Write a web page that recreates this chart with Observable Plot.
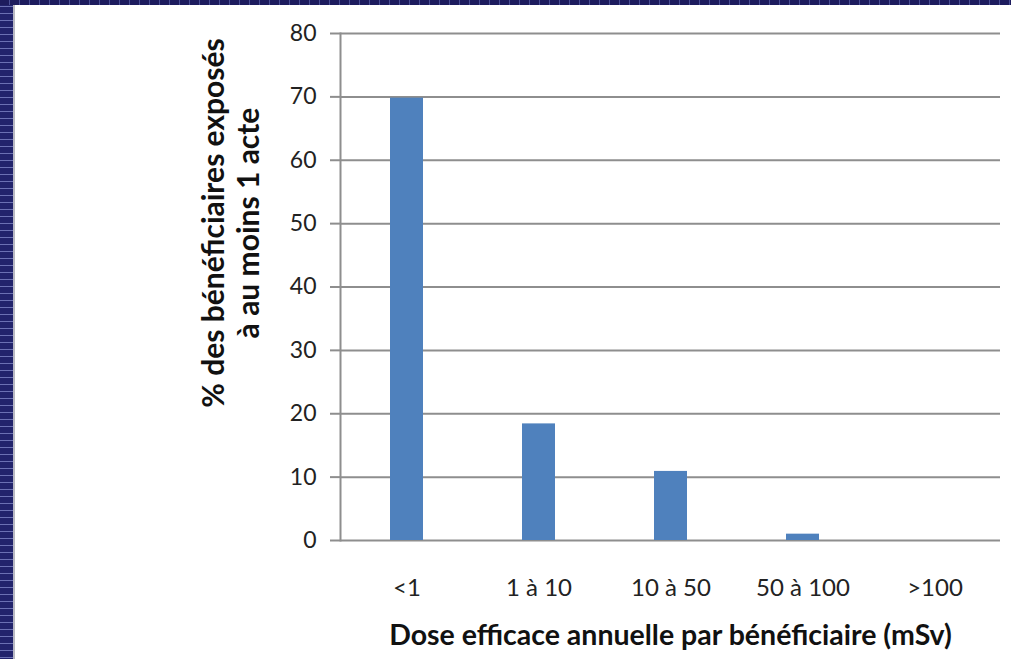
<!DOCTYPE html>
<html>
<head>
<meta charset="utf-8">
<script src="https://cdn.jsdelivr.net/npm/d3@7"></script>
<script src="https://cdn.jsdelivr.net/npm/@observablehq/plot@0.6"></script>
<style>
  html, body { margin: 0; padding: 0; width: 1011px; height: 659px; overflow: hidden; }
  body {
    position: relative;
    background: repeating-linear-gradient(to bottom, #22236c 0px, #22236c 6px, #6b70b3 6px, #6b70b3 7px);
  }
  #topband {
    position: absolute; left: 0; top: 0; width: 1011px; height: 5px;
    background: repeating-linear-gradient(to right, #1d1c5e 0px, #1d1c5e 9px, #4a4f95 9px, #4a4f95 10px);
  }
  #panel {
    position: absolute; left: 13px; top: 5px; right: 0; bottom: 0;
    background: #fff; border-left: 2px solid #b9b9c4;
  }
  #chart { position: absolute; left: 0; top: 0; }
  #chart svg { font-family: Lato, "Open Sans", sans-serif; background: transparent; }
</style>
</head>
<body>
<div id="topband"></div>
<div id="panel"></div>
<div id="chart"></div>
<script>
const categories = ["<1", "1 à 10", "10 à 50", "50 à 100", ">100"];
const values = [69.8, 18.4, 10.9, 1.0, 0];
const yTicks = [0, 10, 20, 30, 40, 50, 60, 70, 80];
const xTitle = "Dose efficace annuelle par bénéficiaire (mSv)";
const yTitle = "% des bénéficiaires exposés\nà au moins 1 acte";

const data = categories.map((c, i) => ({category: c, value: values[i]}));

const chart = Plot.plot({
  width: 1011,
  height: 659,
  marginLeft: 340,
  marginRight: 11,
  marginTop: 33,
  marginBottom: 119,
  style: {background: "transparent", fontFamily: "Lato, 'Open Sans', sans-serif"},
  x: {domain: categories, paddingInner: 0.75, paddingOuter: 0.375, align: 0.5, label: null},
  y: {domain: [0, 80], label: null},
  marks: [
    Plot.gridY(yTicks, {stroke: "#8e8e8e", strokeOpacity: 1, strokeWidth: 2}),
    Plot.frame({anchor: "left", stroke: "#8e8e8e", strokeWidth: 2}),
    Plot.axisY(yTicks, {
      tickSize: 10, tickPadding: 14, stroke: "#8e8e8e", strokeWidth: 2,
      fontSize: 23, fill: "#222", tickFormat: d => String(d), label: null
    }),
    Plot.barY(data, {x: "category", y: "value", fill: "#4f81bd"}),
    Plot.axisX({
      tickSize: 0, tickPadding: 38, fontSize: 24, fill: "#222", label: null
    }),
    Plot.text([xTitle], {
      text: d => d, frameAnchor: "bottom", dy: 104, fontSize: 28.5, fontWeight: "bold", fill: "#111"
    }),
    Plot.text([yTitle], {
      text: d => d, frameAnchor: "left", textAnchor: "middle", rotate: -90, dx: -110, dy: -64,
      fontSize: 30, fontWeight: "bold", fill: "#111", lineHeight: 1.17
    })
  ]
});
document.getElementById("chart").appendChild(chart);
</script>
</body>
</html>
